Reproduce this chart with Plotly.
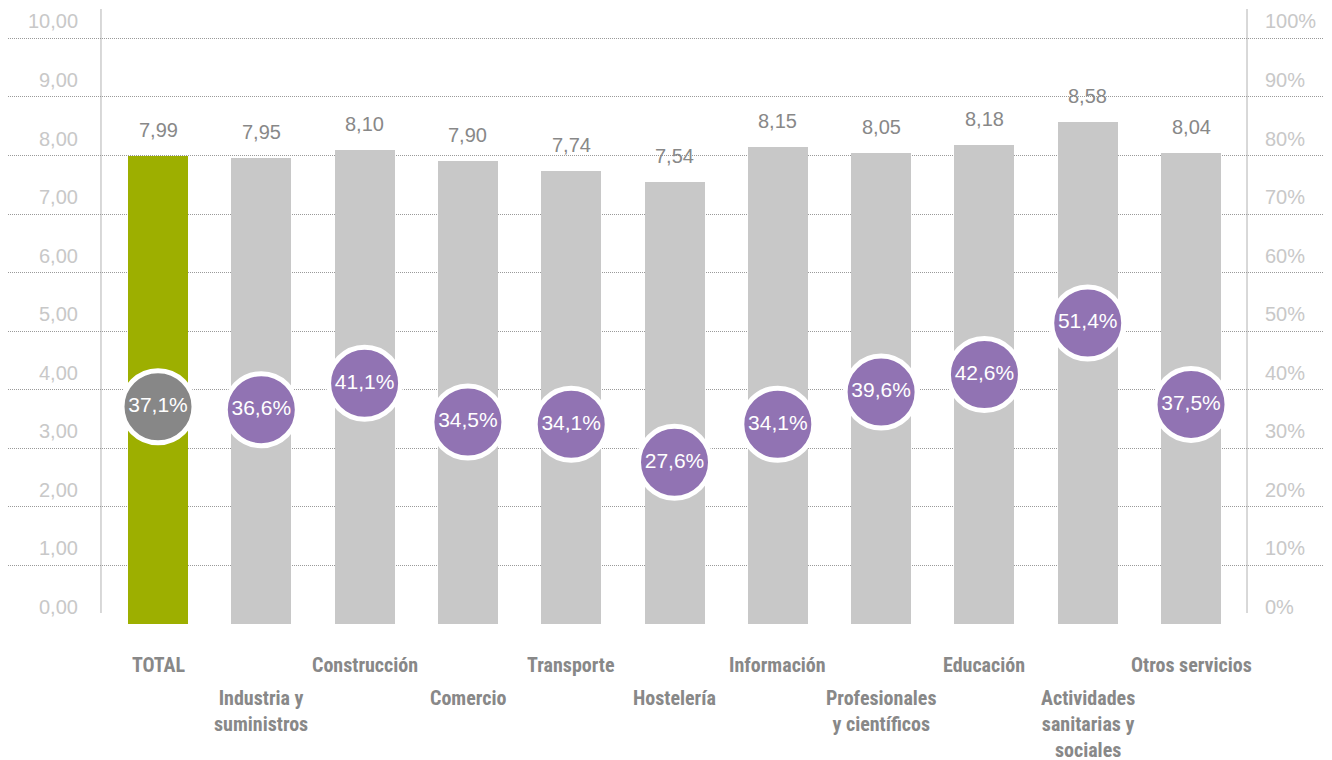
import plotly.graph_objects as go

categories = ["TOTAL", "Industria y suministros", "Construcción", "Comercio", "Transporte",
              "Hostelería", "Información", "Profesionales y científicos", "Educación",
              "Actividades sanitarias y sociales", "Otros servicios"]
category_labels = ["TOTAL", "Industria y<br>suministros", "Construcción", "Comercio", "Transporte",
                   "Hostelería", "Información", "Profesionales<br>y científicos", "Educación",
                   "Actividades<br>sanitarias y<br>sociales", "Otros servicios"]
scores = [7.99, 7.95, 8.10, 7.90, 7.74, 7.54, 8.15, 8.05, 8.18, 8.58, 8.04]
percent = [37.1, 36.6, 41.1, 34.5, 34.1, 27.6, 34.1, 39.6, 42.6, 51.4, 37.5]
left_ticks = [0, 1, 2, 3, 4, 5, 6, 7, 8, 9, 10]
right_ticks = [0, 10, 20, 30, 40, 50, 60, 70, 80, 90, 100]

def fmt(v, d):
    return f"{v:.{d}f}".replace(".", ",")

x = list(range(len(categories)))
bar_colors = ["#9daf00"] + ["#c8c8c8"] * (len(categories) - 1)
circle_colors = ["#878787"] + ["#9173b3"] * (len(categories) - 1)

YMAX = 10.502
fig = go.Figure()
fig.add_trace(go.Bar(x=x, y=scores, width=0.581, marker=dict(color=bar_colors, line=dict(width=0)),
                     hoverinfo="skip", showlegend=False))
fig.add_trace(go.Scatter(x=x, y=percent, yaxis="y2", mode="markers+text",
                         marker=dict(size=72, color=circle_colors, line=dict(color="white", width=5)),
                         text=[fmt(p, 1) + "%" for p in percent], textposition="middle center",
                         textfont=dict(family="Liberation Sans, Arial, sans-serif", size=21, color="white"),
                         cliponaxis=False, hoverinfo="skip", showlegend=False))

ann = []
# bar value labels
for i, v in enumerate(scores):
    ann.append(dict(x=i, y=v, xref="x", yref="y", text=fmt(v, 2), showarrow=False,
                    yanchor="middle", yshift=26,
                    font=dict(family="Liberation Sans, Arial, sans-serif", size=20, color="#888888")))
# left tick labels
for t in left_ticks:
    ann.append(dict(x=-0.755, y=t, xref="x", yref="y", text=fmt(t, 2), showarrow=False,
                    xanchor="right", yanchor="middle", yshift=17,
                    font=dict(family="Liberation Sans, Arial, sans-serif", size=20, color="#c8c8c8")))
# right tick labels
for t in right_ticks:
    ann.append(dict(x=10.697, y=t, xref="x", yref="y2", text=f"{t}%", showarrow=False,
                    xanchor="left", yanchor="middle", yshift=17,
                    font=dict(family="Liberation Sans, Arial, sans-serif", size=20, color="#c8c8c8")))
# category labels
cat_font = dict(family="Liberation Sans Narrow, Arial Narrow, Roboto Condensed, DejaVu Sans Condensed, sans-serif",
                size=20, color="#888888")
for i, lab in enumerate(category_labels):
    if i % 2 == 0:
        ann.append(dict(x=i, y=0, xref="x", yref="paper", text="<b>" + lab + "</b>", showarrow=False,
                        yanchor="middle", yshift=-41, align="center", font=cat_font))
    else:
        ann.append(dict(x=i, y=0, xref="x", yref="paper", text="<b>" + lab + "</b>", showarrow=False,
                        yanchor="top", yshift=-60, align="center", font=cat_font))

shapes = []
for xv in (-0.552, 10.542):
    shapes.append(dict(type="line", xref="x", yref="y", x0=xv, x1=xv, y0=0.188, y1=YMAX,
                       line=dict(color="#cccccc", width=1.5), layer="below"))

fig.update_layout(
    width=1324, height=752,
    margin=dict(l=0, r=4, t=1, b=136),
    paper_bgcolor="white", plot_bgcolor="white",
    bargap=0,
    xaxis=dict(range=[-1.452, 11.326], showgrid=False, zeroline=False, showticklabels=False,
               showline=False, ticks=""),
    yaxis=dict(range=[0, YMAX], tickvals=left_ticks[1:], showgrid=True, gridcolor="#9a9a9a",
               griddash="1px,1px", gridwidth=1, zeroline=False, showticklabels=False, ticks="",
               showline=False),
    yaxis2=dict(range=[0, YMAX * 10], overlaying="y", side="right", showgrid=False, zeroline=False,
                showticklabels=False, ticks="", showline=False),
    annotations=ann,
    shapes=shapes,
)

fig.write_html("out.html")
